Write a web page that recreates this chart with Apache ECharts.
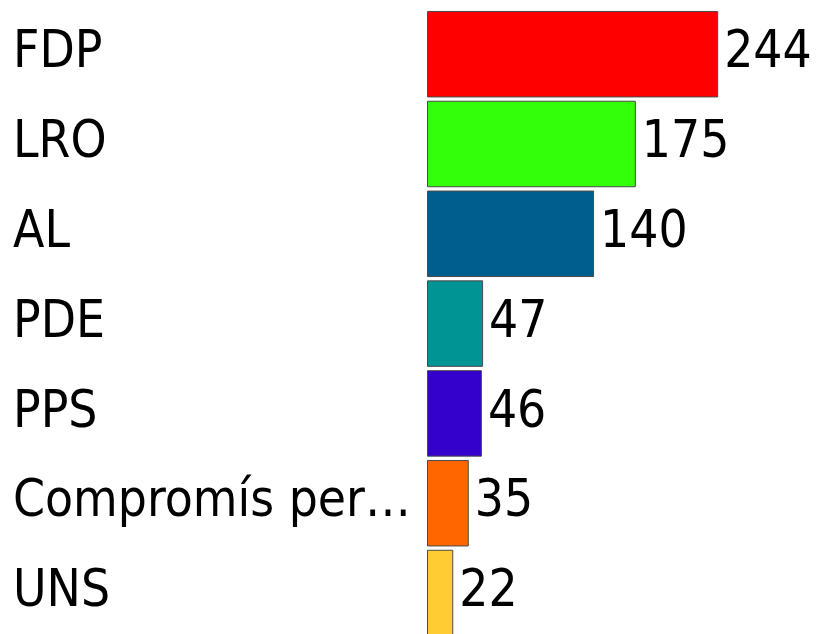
<!DOCTYPE html>
<html>
<head>
<meta charset="utf-8">
<script src="https://cdn.jsdelivr.net/npm/echarts@6/dist/echarts.min.js"></script>
<style>html,body{margin:0;padding:0;background:#fff}#c{width:816px;height:634px}</style>
</head>
<body>
<div id="c"></div>
<script>
const categories = ["FDP", "LRO", "AL", "PDE", "PPS", "Compromís per…", "UNS"];
const values = [244, 175, 140, 47, 46, 35, 22];
const colors = ["#ff0000", "#33ff0a", "#005e8e", "#009494", "#3300cc", "#ff6600", "#ffcc33"];

const FONT = "'DejaVu Sans Condensed', 'DejaVu Sans', sans-serif";
const chart = echarts.init(document.getElementById('c'));
chart.setOption({
  animation: false,
  grid: { left: 427, width: 358, top: 9.3, height: 628.6, containLabel: false, outerBoundsMode: 'none' },
  xAxis: { type: 'value', min: 0, max: 300, show: false },
  yAxis: {
    type: 'category', inverse: true, data: categories,
    axisLine: { show: false }, axisTick: { show: false }, splitLine: { show: false },
    axisLabel: { align: 'left', margin: 414, fontFamily: FONT, fontSize: 51, color: '#000' }
  },
  series: [{
    type: 'bar',
    barCategoryGap: '3.7%',
    data: values.map((v, i) => ({ value: v, itemStyle: { color: colors[i] } })),
    itemStyle: { borderColor: '#4a4a4a', borderWidth: 1 },
    label: { show: true, position: 'right', distance: 6, fontFamily: FONT, fontSize: 51, color: '#000' }
  }]
});
</script>
</body>
</html>
